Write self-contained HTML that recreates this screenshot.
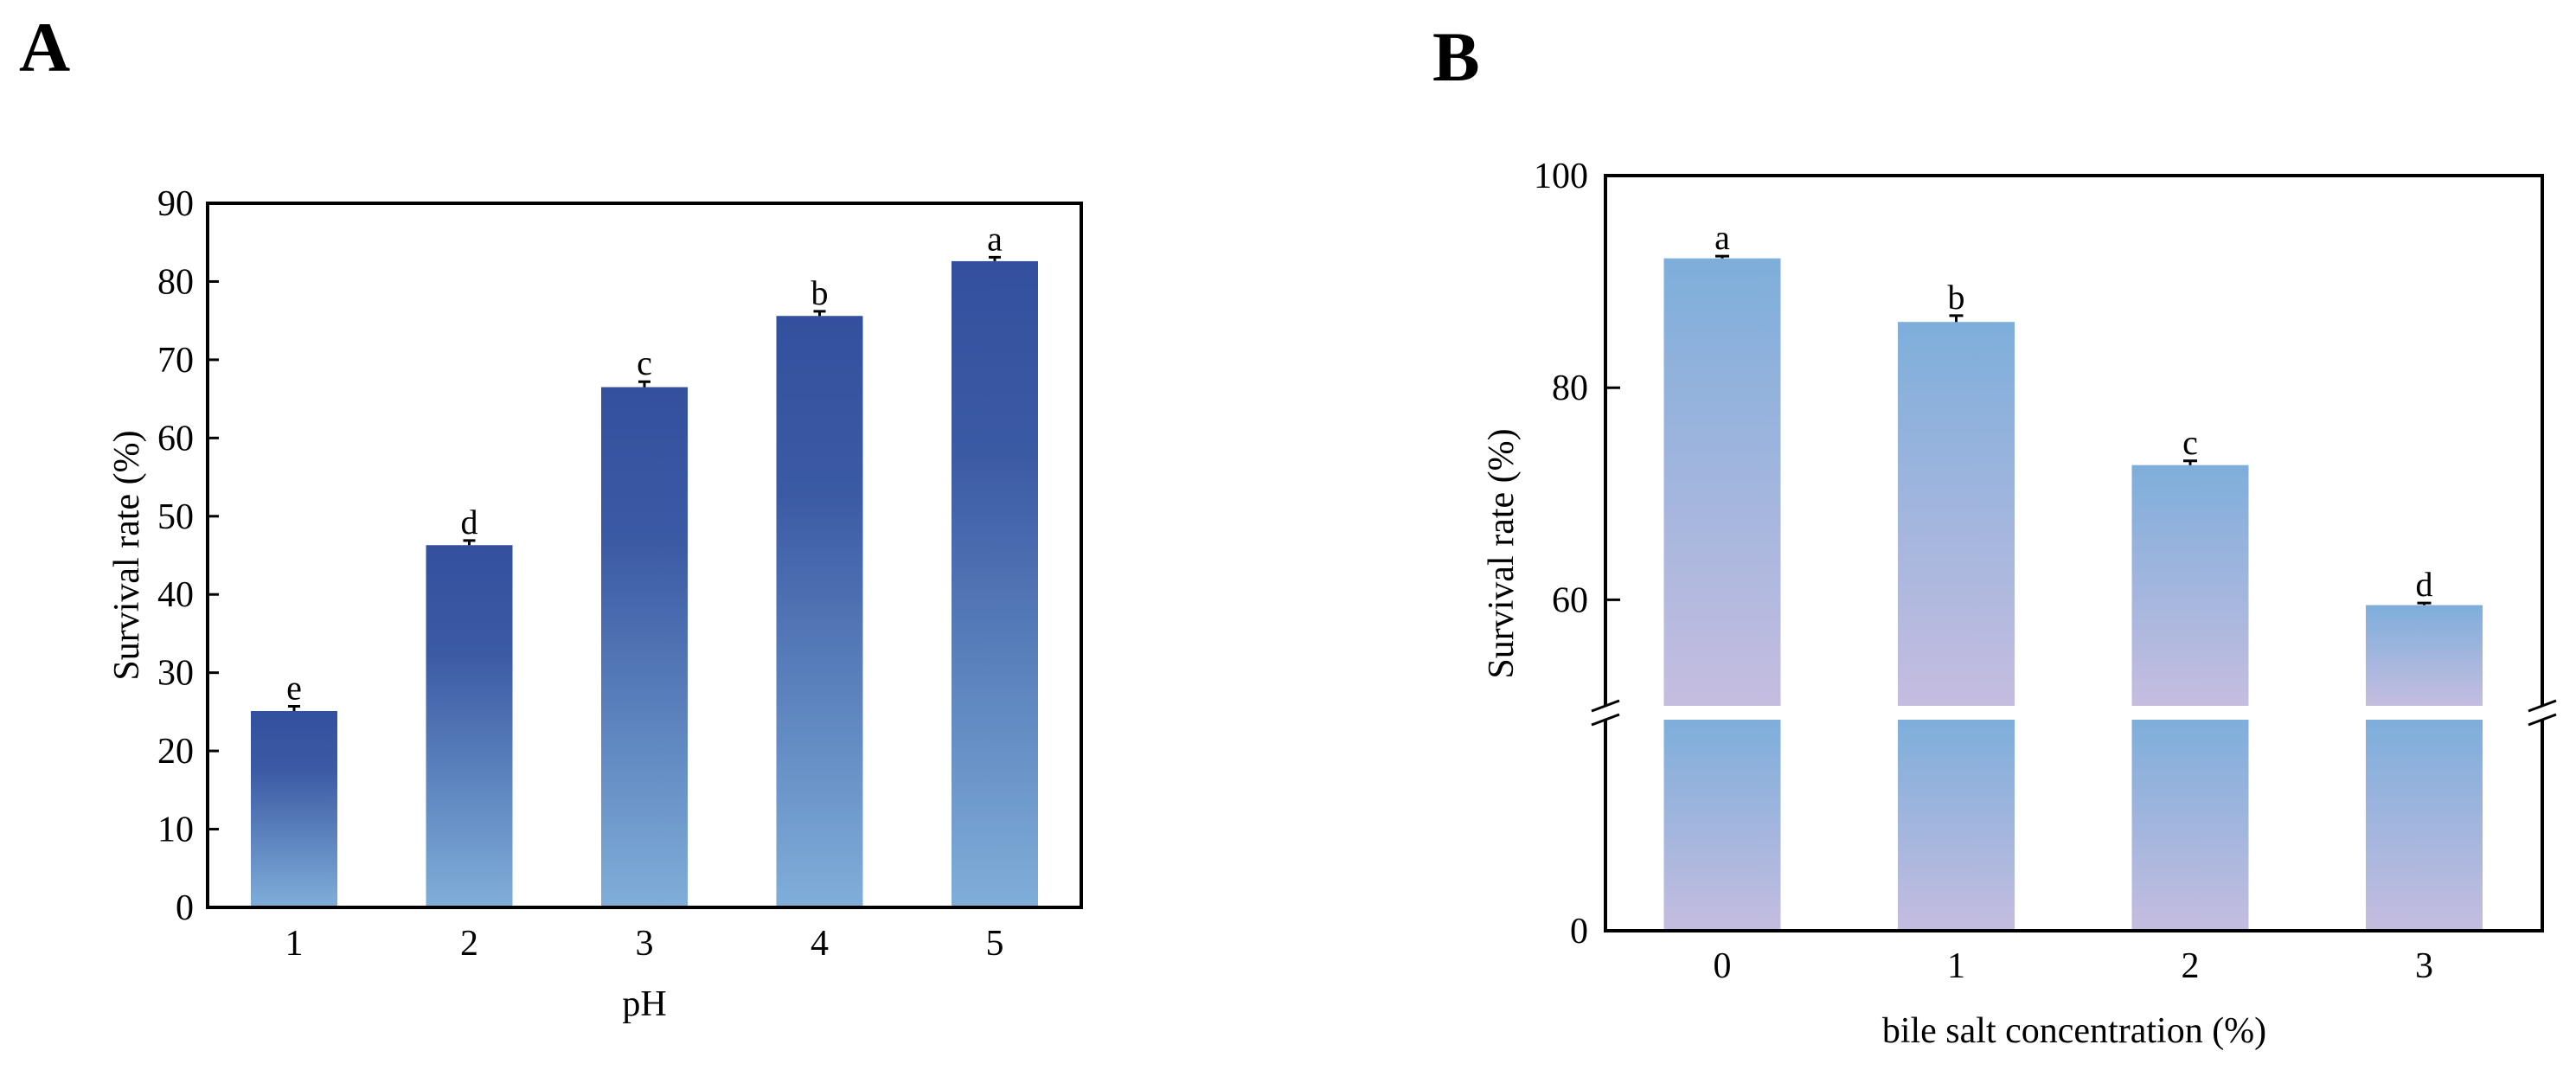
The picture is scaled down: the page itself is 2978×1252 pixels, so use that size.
<!DOCTYPE html>
<html><head><meta charset="utf-8"><style>
html,body{margin:0;padding:0;background:#fff}
svg{display:block}
text{font-family:"Liberation Serif",serif;fill:#000}
</style></head><body>
<svg id="fig" width="2978" height="1252" viewBox="0 0 2978 1252" xmlns="http://www.w3.org/2000/svg">
<defs>
<linearGradient id="gA" x1="0" y1="0" x2="0" y2="1">
<stop offset="0" stop-color="#33509e"/><stop offset="0.3" stop-color="#3b5aa4"/><stop offset="1" stop-color="#80aed9"/>
</linearGradient>
<linearGradient id="gB" x1="0" y1="0" x2="0" y2="1">
<stop offset="0" stop-color="#7eaedb"/><stop offset="1" stop-color="#c5bde0"/>
</linearGradient>
</defs>
<text x="22" y="82" font-size="82" font-weight="bold">A</text>
<text x="1656" y="93" font-size="82" font-weight="bold">B</text>
<g id="chartA"></g>
<g id="chartB"></g>
</svg>
<script>
const NS="http://www.w3.org/2000/svg";
// Panel A data
const phCategories=["1","2","3","4","5"];
const phValues=[25.1,46.3,66.5,75.6,82.6];
const phErrors=[0.6,0.6,0.7,0.6,0.5];
const phLetters=["e","d","c","b","a"];
const phTicks=[0,10,20,30,40,50,60,70,80,90];
// Panel B data
const bileCategories=["0","1","2","3"];
const bileValues=[92.2,86.2,72.7,59.5];
const bileErrors=[0.2,0.6,0.4,0.2];
const bileLetters=["a","b","c","d"];
const bileTicks=[0,60,80,100];

function el(tag,attrs,parent,txt){const e=document.createElementNS(NS,tag);for(const k in attrs)e.setAttribute(k,attrs[k]);if(txt!==undefined)e.textContent=txt;parent.appendChild(e);return e;}

// ---- Panel A ----
(function(){
const g=document.getElementById('chartA');
const L=240,R=1250,T=235,B=1049;
const yA=v=>B-(v/90)*(B-T);
const xA=i=>340+i*202.5;
const bw=100;
phTicks.forEach(t=>{
 const y=yA(t);
 const tk=el('line',{x1:L,x2:L+13,y1:y,y2:y,stroke:'#000','stroke-width':3},g);
 
 
 const lb=el('text',{x:L-16,y:y+14,'font-size':42,'text-anchor':'end'},g,String(t));
 
 
});
phCategories.forEach((c,i)=>{
 const x=xA(i),y=yA(phValues[i]);
 const r=el('rect',{x:x-bw/2,y:y,width:bw,height:B-y,fill:'url(#gA)'},g);
 
 
 const ey=yA(phValues[i]+phErrors[i]);
 const e1=el('path',{d:`M${x} ${y}V${ey}M${x-7} ${ey}H${x+7}`,stroke:'#000','stroke-width':3,fill:'none'},g);
 
 
 const lt=el('text',{x:x,y:ey-8,'font-size':40,'text-anchor':'middle'},g,phLetters[i]);
 
 
 const xl=el('text',{x:x,y:1104,'font-size':42,'text-anchor':'middle'},g,c);
 
 
});
const fr=el('rect',{x:L,y:T,width:R-L,height:B-T,fill:'none',stroke:'#000','stroke-width':4},g);


const xt=el('text',{x:745,y:1174,'font-size':42,'text-anchor':'middle'},g,'pH');


const yt=el('text',{x:0,y:0,'font-size':42,'text-anchor':'middle',transform:'translate(160,642) rotate(-90)'},g,'Survival rate (%)');


})();

// ---- Panel B (broken axis) ----
(function(){
const g=document.getElementById('chartB');
const L=1856,R=2939,T=203,B=1076,upBot=816,loTop=832;
// upper segment 50..100 ; lower segment 0..40
const yU=v=>upBot-((v-50)/50)*(upBot-T);
const yL=v=>B-(v/40)*(B-loTop);
const yB=v=>v>=50?yU(v):yL(v);
const xB=i=>1991+i*270.5;
const bw=135;
bileTicks.forEach(t=>{
 const y=yB(t);
 const tk=el('line',{x1:L,x2:L+17,y1:y,y2:y,stroke:'#000','stroke-width':3},g);
 
 
 const lb=el('text',{x:L-20,y:y+14,'font-size':42,'text-anchor':'end'},g,String(t));
 
 
});
bileCategories.forEach((c,i)=>{
 const x=xB(i),y=yB(bileValues[i]);
 const r1=el('rect',{x:x-bw/2,y:y,width:bw,height:upBot-y,fill:'url(#gB)'},g);
 
 
 const r2=el('rect',{x:x-bw/2,y:loTop,width:bw,height:B-loTop,fill:'url(#gB)'},g);
 
 
 const ey=yB(bileValues[i]+bileErrors[i]);
 const e1=el('path',{d:`M${x} ${y}V${ey}M${x-8} ${ey}H${x+8}`,stroke:'#000','stroke-width':3,fill:'none'},g);
 
 
 const lt=el('text',{x:x,y:ey-8,'font-size':40,'text-anchor':'middle'},g,bileLetters[i]);
 
 
 const xl=el('text',{x:x,y:1130,'font-size':42,'text-anchor':'middle'},g,c);
 
 
});
const ax=el('path',{d:`M${L} 815V${T}H${R}V815M${R} 832V${B}H${L}V832`,fill:'none',stroke:'#000','stroke-width':4},g);


[L,R].forEach((xx,k)=>{
 const br=el('path',{d:`M${xx-16} 822L${xx+16} 810M${xx-16} 838L${xx+16} 826`,stroke:'#000','stroke-width':3,fill:'none'},g);
 
 
});
const xt=el('text',{x:2398,y:1205,'font-size':42,'text-anchor':'middle'},g,'bile salt concentration (%)');


const yt=el('text',{x:0,y:0,'font-size':42,'text-anchor':'middle',transform:'translate(1749,640) rotate(-90)'},g,'Survival rate (%)');


})();
</script>
</body></html>
